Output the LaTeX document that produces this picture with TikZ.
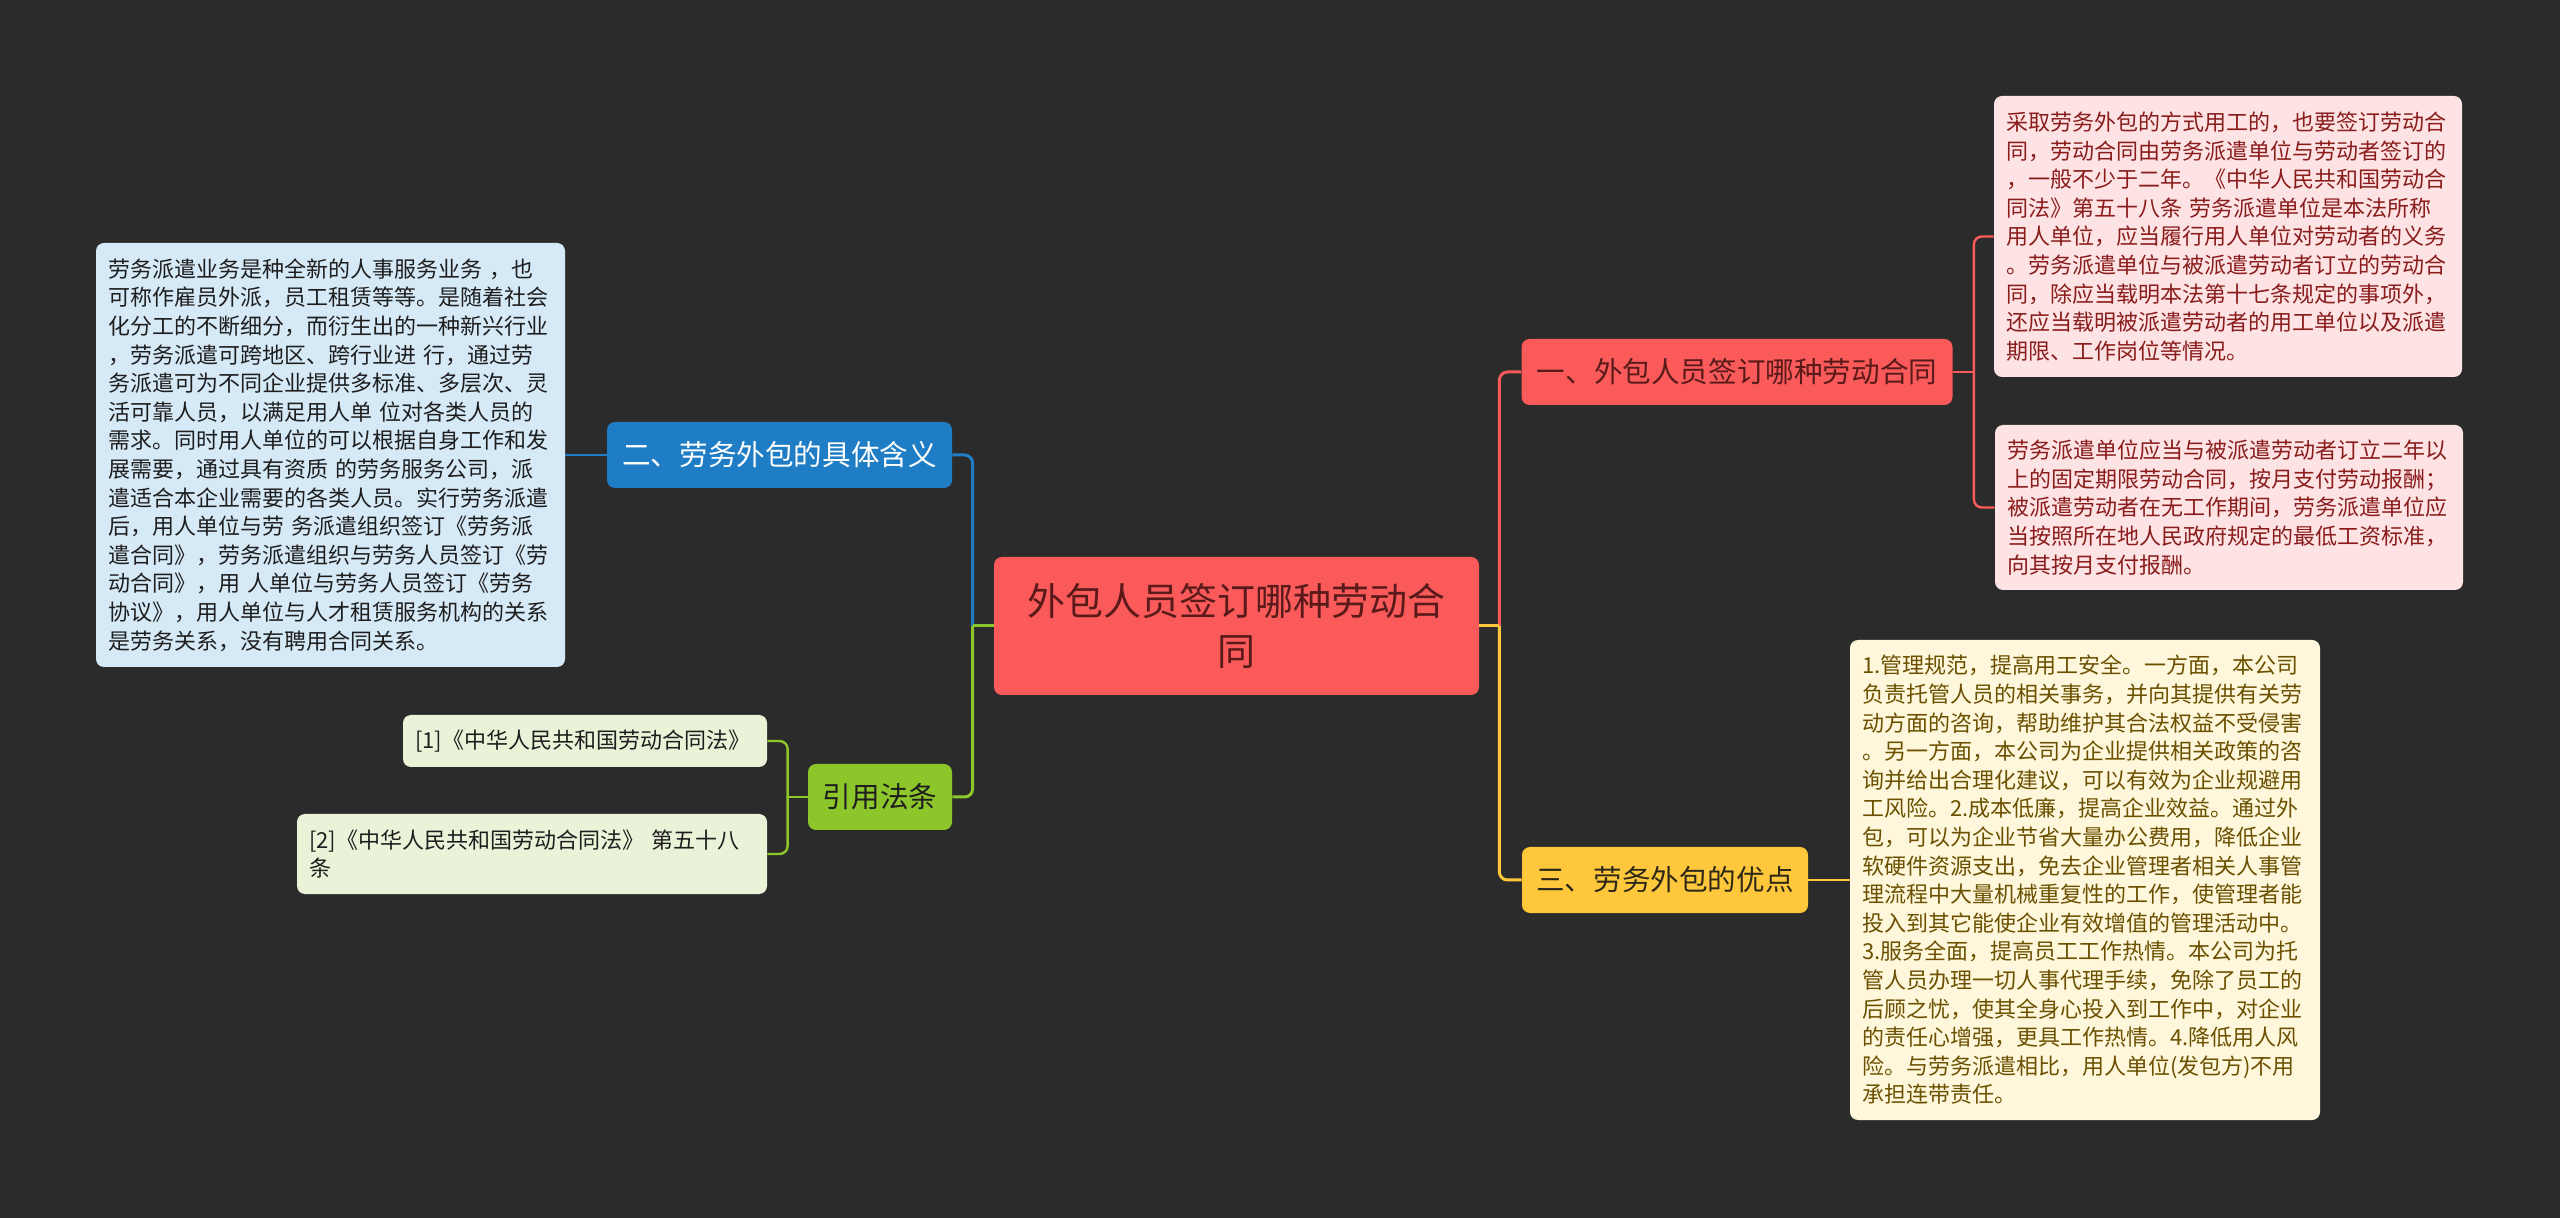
\documentclass[tikz,border=0pt]{standalone}
\usepackage{fontspec}
\setmainfont{Noto Sans CJK SC}
\usetikzlibrary{calc}

\definecolor{bgcol}{HTML}{2B2B2B}
\definecolor{rootred}{HTML}{FA5A5A}
\definecolor{darkred}{HTML}{5A1A1A}
\definecolor{pinkleaf}{HTML}{FDE3E4}
\definecolor{pinktext}{HTML}{8A1C1C}
\definecolor{bluebr}{HTML}{1E7DC4}
\definecolor{blueleaf}{HTML}{D6E9F6}
\definecolor{greenbr}{HTML}{8CC62A}
\definecolor{greenleaf}{HTML}{EAF3D8}
\definecolor{yellowbr}{HTML}{FFC83C}
\definecolor{yellowleaf}{HTML}{FEF7DB}
\definecolor{yellowtext}{HTML}{6B5000}
\definecolor{inktext}{HTML}{1E1E1E}

\tikzset{
	box/.style={rounded corners=4pt, inner sep=0pt, align=center},
	rootbox/.style={box, fill=rootred, text=darkred, font=\fontsize{19}{25}\selectfont},
	branch/.style={box, minimum height=33pt, font=\fontsize{14.3}{18}\selectfont},
	leaf/.style={box, align=left, inner xsep=6pt, font=\fontsize{11}{14.3}\selectfont},
	link/.style={line width=1.5pt},
	sublink/.style={line width=1.2pt, rounded corners=4pt},
}

\begin{document}
\begin{tikzpicture}[x=0.5pt,y=-0.5pt]
		\fill[bgcol] (0,0) rectangle (2560,1218);
		\useasboundingbox (0,0) rectangle (2560,1218);
		\node[rootbox, minimum width=242.5pt, minimum height=69pt] (root) at (1236.5,626) {外包人员签订哪种劳动合\\同};
		\node[branch, fill=rootred, text=darkred, minimum width=215.5pt] (b1) at (1737,372) {一、外包人员签订哪种劳动合同};
		\node[branch, fill=yellowbr, text=inktext!80!yellowtext, minimum width=143pt] (b3) at (1665,880) {三、劳务外包的优点};
		\node[branch, fill=bluebr, text=white, minimum width=172.5pt] (b2) at (779.5,455) {二、劳务外包的具体含义};
		\node[branch, fill=greenbr, text=inktext, minimum width=72pt] (b4) at (880,797) {引用法条};
		% leaves
		\node[leaf, fill=pinkleaf, text=pinktext, text width=222pt, minimum height=140.5pt] (p1) at (2228,236.5) {采取劳务外包的方式用工的，也要签订劳动合\\同，劳动合同由劳务派遣单位与劳动者签订的\\，一般不少于二年。《中华人民共和国劳动合\\同法》第五十八条 劳务派遣单位是本法所称\\用人单位，应当履行用人单位对劳动者的义务\\。劳务派遣单位与被派遣劳动者订立的劳动合\\同，除应当载明本法第十七条规定的事项外，\\还应当载明被派遣劳动者的用工单位以及派遣\\期限、工作岗位等情况。};
		\node[leaf, fill=pinkleaf, text=pinktext, text width=222pt, minimum height=82.5pt] (p2) at (2229,507.5) {劳务派遣单位应当与被派遣劳动者订立二年以\\上的固定期限劳动合同，按月支付劳动报酬；\\被派遣劳动者在无工作期间，劳务派遣单位应\\当按照所在地人民政府规定的最低工资标准，\\向其按月支付报酬。};
		\node[leaf, fill=yellowleaf, text=yellowtext, text width=223pt, minimum height=240pt] (y1) at (2085,880) {1.管理规范，提高用工安全。一方面，本公司\\负责托管人员的相关事务，并向其提供有关劳\\动方面的咨询，帮助维护其合法权益不受侵害\\。另一方面，本公司为企业提供相关政策的咨\\询并给出合理化建议，可以有效为企业规避用\\工风险。2.成本低廉，提高企业效益。通过外\\包，可以为企业节省大量办公费用，降低企业\\软硬件资源支出，免去企业管理者相关人事管\\理流程中大量机械重复性的工作，使管理者能\\投入到其它能使企业有效增值的管理活动中。\\3.服务全面，提高员工工作热情。本公司为托\\管人员办理一切人事代理手续，免除了员工的\\后顾之忧，使其全身心投入到工作中，对企业\\的责任心增强，更具工作热情。4.降低用人风\\险。与劳务派遣相比，用人单位(发包方)不用\\承担连带责任。};
		\node[leaf, fill=blueleaf, text=inktext, text width=222.5pt, minimum height=212pt] (bl) at (330.5,455) {劳务派遣业务是种全新的人事服务业务 ，也\\可称作雇员外派，员工租赁等等。是随着社会\\化分工的不断细分，而衍生出的一种新兴行业\\，劳务派遣可跨地区、跨行业进 行，通过劳\\务派遣可为不同企业提供多标准、多层次、灵\\活可靠人员，以满足用人单 位对各类人员的\\需求。同时用人单位的可以根据自身工作和发\\展需要，通过具有资质 的劳务服务公司，派\\遣适合本企业需要的各类人员。实行劳务派遣\\后，用人单位与劳 务派遣组织签订《劳务派\\遣合同》，劳务派遣组织与劳务人员签订《劳\\动合同》，用 人单位与劳务人员签订《劳务\\协议》，用人单位与人才租赁服务机构的关系\\是劳务关系，没有聘用合同关系。};
		\node[leaf, fill=greenleaf, text=inktext, text width=170pt, minimum height=26pt] (g1) at (585,741) {[1]《中华人民共和国劳动合同法》};
		\node[leaf, fill=greenleaf, text=inktext, text width=223pt, minimum height=40pt] (g2) at (532,854) {[2]《中华人民共和国劳动合同法》 第五十八\\条};
		% root to branches
		\draw[link, rootred] (root.east) -- ++(20,0) coordinate (rj);
		\draw[link, rootred, rounded corners=4pt] (rj) |- (b1.west);
		\draw[link, yellowbr] (root.east) -- (rj);
		\draw[link, yellowbr, rounded corners=4pt] (rj) |- (b3.west);
		\draw[link, bluebr] (root.west) -- ++(-21,0) coordinate (lj);
		\draw[link, bluebr, rounded corners=4pt] (lj) |- (b2.east);
		\draw[link, greenbr] (root.west) -- (lj);
		\draw[link, greenbr, rounded corners=4pt] (lj) |- (b4.east);
		% branches to leaves
		\draw[sublink, rootred] (b1.east) -- ++(21,0) coordinate (rk);
		\foreach \lf in {p1,p2}
		\draw[sublink, rootred] (rk) |- (\lf.west);
		\draw[sublink, yellowbr] (b3.east) -- (y1.west);
		\draw[sublink, bluebr] (b2.west) -- (bl.east);
		\draw[sublink, greenbr] (b4.west) -- ++(-20,0) coordinate (lk);
		\foreach \lf in {g1,g2}
		\draw[sublink, greenbr] (lk) |- (\lf.east);
	\end{tikzpicture}
\end{document}
